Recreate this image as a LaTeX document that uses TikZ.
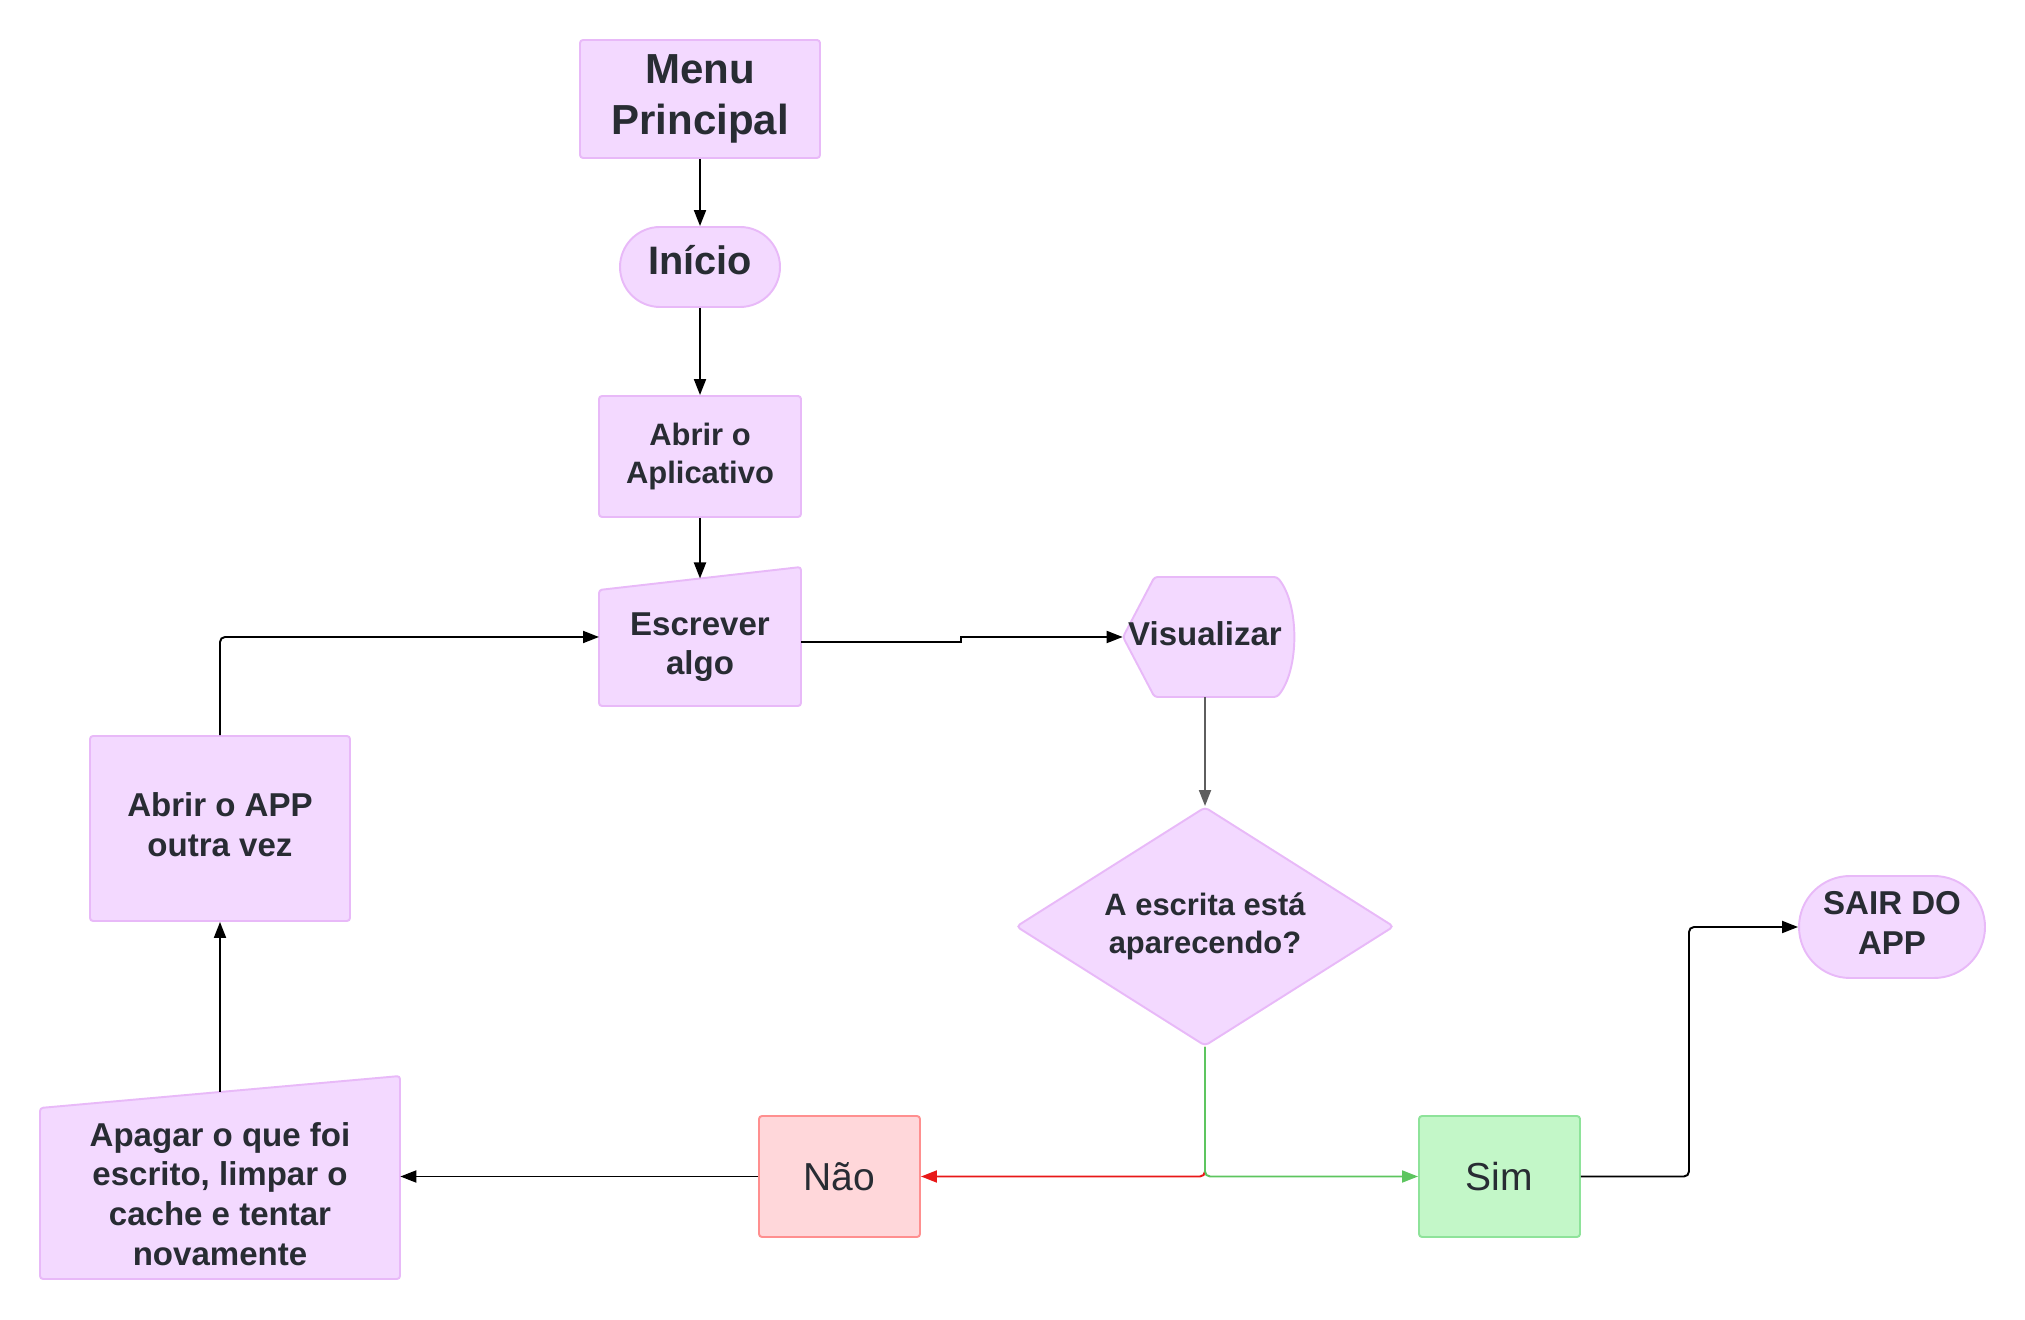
\documentclass[tikz,border=0pt]{standalone}
\usepackage{fontspec}
\setmainfont{Liberation Sans}
\usetikzlibrary{shapes.geometric,arrows.meta,positioning}
\definecolor{lilas}{HTML}{F3D9FF}
\definecolor{lilasborda}{HTML}{E8B9F8}
\definecolor{naofundo}{HTML}{FFD7DA}
\definecolor{naoborda}{HTML}{FF8F8F}
\definecolor{simfundo}{HTML}{C3F7C8}
\definecolor{simborda}{HTML}{8EE39A}
\definecolor{texto}{HTML}{282C33}
\definecolor{ramonao}{HTML}{E81818}
\definecolor{ramosim}{HTML}{5DC55F}
\definecolor{cinza}{HTML}{5E5E5E}
\newcommand\letraMenu{\fontsize{23.9pt}{28.7pt}\selectfont\bfseries}
\newcommand\letraInicio{\fontsize{22.6pt}{27pt}\selectfont\bfseries}
\newcommand\letraMedia{\fontsize{18.8pt}{22.6pt}\selectfont\bfseries}
\newcommand\letraPequena{\fontsize{17.6pt}{21.3pt}\selectfont\bfseries}
\newcommand\letraResposta{\fontsize{22.2pt}{26.6pt}\selectfont}

\begin{document}
\begin{tikzpicture}[
    caixa/.style={draw=lilasborda, fill=lilas, line width=1.1pt, rounded corners=0.06cm,
        text=texto, align=center, inner sep=0pt},
    forma/.style={draw=lilasborda, fill=lilas, line width=1.1pt, rounded corners=0.06cm},
    rotulo/.style={text=texto, align=center, inner sep=0pt, font=\letraMedia},
    seta/.style={line width=1.1pt, rounded corners=0.1cm, -{Triangle[length=0.32cm,width=0.24cm]}}
]
    \useasboundingbox (0,0) rectangle (40.5,26.38);

    % coluna central
    \node[caixa, font=\letraMenu, minimum width=4.8cm, minimum height=2.36cm] (menu) at (14,24.4) {Menu\\Principal};
    \node[caixa, font=\letraInicio, rounded corners=0.8cm, text depth=0.28cm, minimum width=3.2cm, minimum height=1.6cm] (inicio) at (14,21.04) {Início};
    \node[caixa, font=\letraPequena, minimum width=4.04cm, minimum height=2.42cm] (abrir) at (14,17.25) {Abrir o\\Aplicativo};
    \filldraw[forma] (11.98,12.26) -- (16.02,12.26) -- (16.02,15.04) -- (11.98,14.58) -- cycle;
    \node[rotulo] (escrever) at (14,13.44) {Escrever\\algo};
    \coordinate (escrevertopo) at (14,14.81);
    \coordinate (escreverentrada) at (11.98,13.64);
    \coordinate (escreversaida) at (16.02,13.54);

    % visualizar e pergunta
    \filldraw[forma] (22.46,13.64) -- (23.09,14.84) -- (25.54,14.84)
        .. controls (25.99,14.3) and (25.99,12.98) .. (25.54,12.44) -- (23.09,12.44) -- cycle;
    \node[rotulo, minimum width=3.28cm, minimum height=2.4cm, text depth=0.12cm] (visualizar) at (24.1,13.64) {Visualizar};
    \node[caixa, shape=diamond, aspect=1.58, font=\letraPequena, rounded corners=0.08cm, minimum width=7.56cm, minimum height=4.78cm] (pergunta) at (24.1,7.85) {A escrita está\\aparecendo?};

    % respostas
    \node[caixa, font=\letraResposta, draw=naoborda, fill=naofundo, minimum width=3.22cm, minimum height=2.42cm] (nao) at (16.79,2.85) {Não};
    \node[caixa, font=\letraResposta, draw=simborda, fill=simfundo, minimum width=3.22cm, minimum height=2.42cm] (sim) at (29.99,2.85) {Sim};
    \node[caixa, font=\letraMedia, rounded corners=1.02cm, text depth=0.16cm, minimum width=3.72cm, minimum height=2.04cm] (sair) at (37.84,7.84) {SAIR DO\\APP};

    % coluna da esquerda
    \filldraw[forma] (0.8,0.8) -- (8.0,0.8) -- (8.0,4.86) -- (0.8,4.22) -- cycle;
    \node[rotulo, minimum width=7.2cm] (apagar) at (4.4,2.5) {Apagar o que foi\\escrito, limpar o\\cache e tentar\\novamente};
    \coordinate (apagartopo) at (4.4,4.54);
    \node[caixa, font=\letraMedia, text depth=0.16cm, minimum width=5.2cm, minimum height=3.7cm] (abrirapp) at (4.4,9.81) {Abrir o APP\\outra vez};

    % ligacoes
    \draw[seta] (menu) -- (inicio);
    \draw[seta] (inicio) -- (abrir);
    \draw[seta] (abrir) -- (escrevertopo);
    \draw[seta, rounded corners=0pt] (escreversaida) -- ++(3.2,0) |- (visualizar.west);
    \draw[seta, cinza] (visualizar.south) -- (pergunta.north);
    \draw[seta, ramonao] (pergunta.south) |- (nao.east);
    \draw[seta, ramosim] (pergunta.south) |- (sim.west);
    \draw[seta] (sim.east) -- ++(2.16,0) |- (sair.west);
    \draw[seta] (nao.west) -- (nao.west -| apagar.east);
    \draw[seta] (apagartopo) -- (abrirapp.south);
    \draw[seta] (abrirapp.north) |- (escreverentrada);
\end{tikzpicture}
\end{document}
